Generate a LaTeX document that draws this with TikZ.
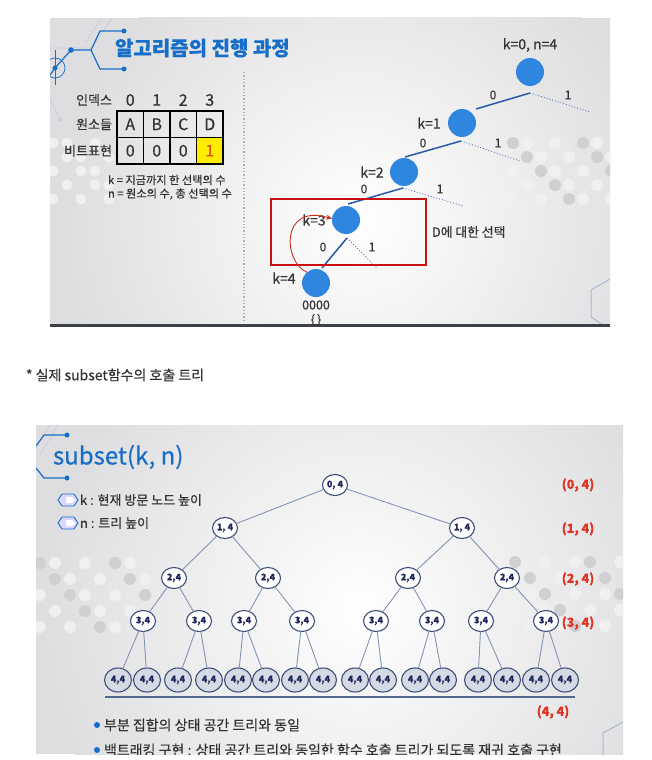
\documentclass[tikz,border=0pt]{standalone}
\usepackage{fontspec}
\setmainfont[FakeBold=0.4]{Noto Sans CJK KR}
\usetikzlibrary{arrows.meta,shapes.geometric}

\definecolor{slidegray}{RGB}{222,222,224}
\definecolor{tblue}{RGB}{22,110,200}
\definecolor{nblue}{RGB}{46,134,222}
\definecolor{eblue}{RGB}{40,88,168}
\definecolor{dblue}{RGB}{80,115,185}
\definecolor{redbox}{RGB}{200,16,16}
\definecolor{redarr}{RGB}{205,50,30}
\definecolor{txt}{RGB}{51,51,51}
\definecolor{tnb}{RGB}{62,78,120}
\definecolor{tnt}{RGB}{28,38,90}
\definecolor{leafgray}{RGB}{214,218,228}
\definecolor{tedge}{RGB}{130,148,180}
\definecolor{rlab}{RGB}{226,50,34}
\definecolor{hexc}{RGB}{170,186,210}
\definecolor{dotdark}{RGB}{208,208,210}
\definecolor{dotlight}{RGB}{240,240,242}
\definecolor{barc}{RGB}{60,64,72}
\definecolor{cellyellow}{RGB}{255,236,0}
\definecolor{bitred}{RGB}{225,80,10}
\definecolor{hlc}{RGB}{80,105,140}

\tikzset{
  lbl/.style={font=\fontsize{14}{16}\selectfont, text=txt},
  elbl/.style={font=\fontsize{12}{14}\selectfont, text=txt},
  tbl/.style={font=\fontsize{13}{15}\selectfont, text=txt, anchor=east},
  cell/.style={draw=black, line width=1.3pt, minimum width=26.5pt, minimum height=26.5pt, font=\fontsize{16}{18}\selectfont, text=txt},
  bnode/.style={circle, fill=nblue, minimum size=28pt},
  solidedge/.style={eblue, line width=1.5pt},
  dotedge/.style={dblue, line width=0.9pt, dotted},
  tn/.style={ellipse, draw=tnb, line width=1.1pt, fill=white, minimum width=25pt, minimum height=21pt, font=\fontsize{9}{10}\selectfont\bfseries, text=tnt},
  leaf/.style={tn, fill=leafgray, minimum width=27pt, minimum height=24pt},
  tedgestyle/.style={tedge, line width=0.9pt},
  rl/.style={font=\fontsize{12.5}{14}\selectfont\bfseries, text=rlab},
  circ/.style={tblue, line width=1.2pt},
}

\begin{document}
\begin{tikzpicture}[x=1pt,y=-1pt, every node/.style={inner sep=0pt, outer sep=0pt}]
\useasboundingbox (0,0) rectangle (651,760);
\fill[white] (0,0) rectangle (651,760);

%================ TOP SLIDE =================
\begin{scope}
\clip (50,18) rectangle (610,325);
\fill[slidegray] (50,18) rectangle (610,325);
\shade[inner color=white, outer color=slidegray] (360,220) circle [radius=300pt];
% dots left
\foreach \i in {0,...,4}{\foreach \j in {0,...,4}{
  \pgfmathtruncatemacro{\m}{mod(\i*7+\j*3,5)}
  \ifnum\m<3 \fill[dotlight] (53+\i*14, 143+\j*14) circle [radius=5.5pt];\fi
}}
% dots right
\foreach \i in {0,...,7}{\foreach \j in {0,...,4}{
  \pgfmathtruncatemacro{\m}{mod(\i*7+\j*3,5)}
  \ifnum\m=0 \fill[dotdark] (513+\i*14, 143+\j*14) circle [radius=6pt];
  \else\ifnum\m<3 \fill[dotlight] (513+\i*14, 143+\j*14) circle [radius=6pt];\fi\fi
}}
% faint decoration lines
\draw[hexc!70, line width=0.8pt] (112,18) -- (92,48) -- (50,48);
\draw[hexc!70, line width=0.8pt] (102,18) -- (86,42);
\draw[hexc!70, line width=0.8pt] (50,98) -- (60,120);
\fill[hexc!70] (60,120) circle [radius=2pt];
% circuit decoration
\draw[circ] (50,75) -- (55,68) -- (71,50) -- (91,50) -- (100,31) -- (124,31);
\draw[circ] (91,50) -- (100,69) -- (124,69);
\draw[tblue, line width=0.7pt] (55,68) circle [radius=10pt];
\draw[tblue, line width=0.7pt] (55,50) -- (55,85);
\fill[tblue] (71,50) circle [radius=2.8pt];
\fill[tblue] (124,31) circle [radius=2.5pt];
\fill[tblue] (124,69) circle [radius=2.5pt];
\fill[tblue] (55,68) circle [radius=2.5pt];
% hexagon bottom right
\draw[hexc, line width=1pt] (612,278) -- (591,290) -- (591,317) -- (606,327);
\end{scope}
\fill[barc] (50,324) rectangle (610,327);

% title
\node[anchor=west, font=\fontsize{20}{24}\selectfont\bfseries, text=tblue] (title1) at (115,48) {알고리즘의 진행 과정};

% table
\node[tbl] (hidx) at (112,100) {인덱스};
\node[tbl] (helm) at (112,124.25) {원소들};
\node[tbl] (hbit) at (112,150.75) {비트표현};
\foreach \n/\x in {0/130.25,1/156.75,2/183.25,3/209.75}{
  \node[font=\fontsize{16}{18}\selectfont, text=txt] (i\n) at (\x,100) {\n};
}
\node[cell] (a0) at (130.25,124.25) {A};
\node[cell] (a1) at (156.75,124.25) {B};
\node[cell] (a2) at (183.25,124.25) {C};
\node[cell] (a3) at (209.75,124.25) {D};
\node[cell] (b0) at (130.25,150.75) {0};
\node[cell] (b1) at (156.75,150.75) {0};
\node[cell] (b2) at (183.25,150.75) {0};
\node[cell, fill=cellyellow, text=bitred] (b3) at (209.75,150.75) {1};

\node[anchor=west, font=\fontsize{11.2}{13}\selectfont, text=txt] (kdef) at (108,180) {k = 지금까지 한 선택의 수};
\node[anchor=west, font=\fontsize{11.2}{13}\selectfont, text=txt] (ndef) at (108,194) {n = 원소의 수, 총 선택의 수};

% dotted separator
\coordinate (sepT) at (244,72);
\coordinate (sepB) at (244,322);
\draw[gray!60, line width=1.3pt, dotted] (sepT) -- (sepB);

% tree
\node[bnode] (r0) at (530,72) {};
\node[bnode] (k1) at (462,123) {};
\node[bnode] (k2) at (404,172) {};
\node[bnode] (k3) at (346,220) {};
\node[bnode] (k4) at (316,283) {};

\node[lbl] (lr0) at (530,45) {k=0, n=4};
\node[lbl] (lk1) at (429,123) {k=1};
\node[lbl] (lk2) at (372,172) {k=2};
\node[lbl] (lk3) at (314,220) {k=3};
\node[lbl] (lk4) at (284,278) {k=4};
\node[elbl, font=\fontsize{12.5}{14}\selectfont] (bits) at (316,305) {0000};
\node[elbl] (empty) at (316,320) {\{\,\}};

\coordinate (f0) at (530,93);  \coordinate (e1) at (476,109); \coordinate (d0) at (590,112);
\coordinate (f1) at (461,141); \coordinate (e2) at (405,157); \coordinate (d1) at (520,161);
\coordinate (f2) at (403,188); \coordinate (e3) at (348,204); \coordinate (d2) at (463,206);
\coordinate (f3) at (347,238); \coordinate (e4) at (322,268); \coordinate (d3) at (377,268);
\draw[solidedge] (f0) -- (e1);
\draw[solidedge] (f1) -- (e2);
\draw[solidedge] (f2) -- (e3);
\draw[solidedge] (f3) -- (e4);
\draw[dotedge] (f0) -- (d0);
\draw[dotedge] (f1) -- (d1);
\draw[dotedge] (f2) -- (d2);
\draw[dotedge] (f3) -- (d3);

\node[elbl] (z0) at (493,95) {0};   \node[elbl] (o0) at (568,95) {1};
\node[elbl] (z1) at (423,143) {0};  \node[elbl] (o1) at (498,143) {1};
\node[elbl] (z2) at (364,189) {0};  \node[elbl] (o2) at (440,189) {1};
\node[elbl] (z3) at (323,247) {0};  \node[elbl] (o3) at (372,247) {1};

\node[draw=redbox, line width=1.8pt, minimum width=155pt, minimum height=66pt] (dbox) at (348.5,232) {};
\node[anchor=west, font=\fontsize{12.8}{15}\selectfont, text=txt] (dsel) at (432,232) {D에 대한 선택};

\draw[redarr, line width=0.9pt, -{Stealth[length=6pt,width=5pt]}] (k4.130) .. controls (283,262) and (280,203) .. (k3.175);

%================ MIDDLE TEXT =================
\node[anchor=west, font=\fontsize{14}{16}\selectfont, text=txt] (mid) at (26,375) {* 실제 subset함수의 호출 트리};

%================ BOTTOM SLIDE =================
\begin{scope}
\clip (36,425) rectangle (623,754);
\fill[slidegray] (36,425) rectangle (623,754);
\shade[inner color=white, outer color=slidegray] (360,610) circle [radius=320pt];
\foreach \i in {0,...,7}{\foreach \j in {0,...,4}{
  \pgfmathtruncatemacro{\m}{mod(\i*7+\j*3,5)}
  \ifnum\m=0 \fill[dotdark] (40+\i*15, 563+\j*16) circle [radius=6pt];
  \else\ifnum\m<3 \fill[dotlight] (40+\i*15, 563+\j*16) circle [radius=6pt];\fi\fi
}}
\foreach \i in {0,...,7}{\foreach \j in {0,...,4}{
  \pgfmathtruncatemacro{\m}{mod(\i*3+\j*7,5)}
  \ifnum\m=0 \fill[dotdark] (515+\i*15, 562+\j*16) circle [radius=6pt];
  \else\ifnum\m<3 \fill[dotlight] (515+\i*15, 562+\j*16) circle [radius=6pt];\fi\fi
}}
\draw[hexc!70, line width=0.8pt] (50,425) -- (36,448);
\draw[hexc!70, line width=0.8pt] (58,425) -- (40,455);
\draw[circ] (67,435) -- (44,435) -- (36,446);
\draw[circ] (36,468) -- (44,478) -- (67,478);
\fill[tblue] (67,435) circle [radius=2.5pt];
\fill[tblue] (67,478) circle [radius=2.5pt];
\draw[hexc, line width=1pt] (625,721) -- (603,733) -- (603,756);

% bullets
\fill[tblue] (97,725) circle [radius=3pt];
\node[anchor=west, font=\fontsize{14}{16}\selectfont, text=txt] (bul1) at (104,725) {부분 집합의 상태 공간 트리와 동일};
\fill[tblue] (97,750) circle [radius=3pt];
\node[anchor=west, font=\fontsize{14}{16}\selectfont, text=txt] (bul2) at (104,750) {백트래킹 구현 : 상태 공간 트리와 동일한 함수 호출 트리가 되도록 재귀 호출 구현};
\end{scope}

\node[anchor=west, font=\fontsize{24}{27}\selectfont, text=tblue] (title2) at (53,457) {subset(k, n)};

% icons
\foreach \y/\nm in {500/ik,523/in}{
  \filldraw[fill=blue!15, draw=tblue, line width=0.9pt] (58,\y) -- (62,\y-6) -- (74,\y-6) -- (78,\y) -- (74,\y+6) -- (62,\y+6) -- cycle;
  \fill[white] (66,\y-3) -- (72,\y-3) -- (75,\y) -- (72,\y+3) -- (66,\y+3) -- cycle;
}
\node[anchor=west, font=\fontsize{13}{15}\selectfont, text=txt] (kdesc) at (80,500) {k : 현재 방문 노드 높이};
\node[anchor=west, font=\fontsize{13}{15}\selectfont, text=txt] (ndesc) at (80,523) {n : 트리 높이};

% tree nodes
\node[tn] (t0) at (335,485) {0, 4};
\node[tn] (t10) at (225,528) {1, 4};
\node[tn] (t11) at (462,528) {1, 4};
\node[tn] (t20) at (174,578) {2,4};
\node[tn] (t21) at (268,578) {2,4};
\node[tn] (t22) at (408,578) {2,4};
\node[tn] (t23) at (507,578) {2,4};
\foreach \x [count=\c from 0] in {143,199,244,302,376,432,481,546}{
  \node[tn] (t3\c) at (\x,621) {3,4};
}
\foreach \x [count=\c from 0] in {118,147,178,209,238,266,295,323,355,383,415,443,478,507,536,565}{
  \node[leaf] (L\c) at (\x,680) {4,4};
}
% edges
\draw[tedgestyle] (t0) -- (t10);
\draw[tedgestyle] (t0) -- (t11);
\draw[tedgestyle] (t10) -- (t20);
\draw[tedgestyle] (t10) -- (t21);
\draw[tedgestyle] (t11) -- (t22);
\draw[tedgestyle] (t11) -- (t23);
\draw[tedgestyle] (t20) -- (t30);
\draw[tedgestyle] (t20) -- (t31);
\draw[tedgestyle] (t21) -- (t32);
\draw[tedgestyle] (t21) -- (t33);
\draw[tedgestyle] (t22) -- (t34);
\draw[tedgestyle] (t22) -- (t35);
\draw[tedgestyle] (t23) -- (t36);
\draw[tedgestyle] (t23) -- (t37);
\foreach \p in {0,...,7}{
  \pgfmathtruncatemacro{\a}{2*\p}
  \pgfmathtruncatemacro{\b}{2*\p+1}
  \draw[tedgestyle] (t3\p) -- (L\a);
  \draw[tedgestyle] (t3\p) -- (L\b);
}
\coordinate (hl) at (105,697);
\coordinate (hr) at (575,697);
\draw[hlc, line width=1.6pt] (hl) -- (hr);

\node[rl] (r04) at (578,485) {(0, 4)};
\node[rl] (r14) at (578,529) {(1, 4)};
\node[rl] (r24) at (578,579) {(2, 4)};
\node[rl] (r34) at (578,623) {(3, 4)};
\node[rl] (r44) at (553,712) {(4, 4)};

\end{tikzpicture}
\end{document}
